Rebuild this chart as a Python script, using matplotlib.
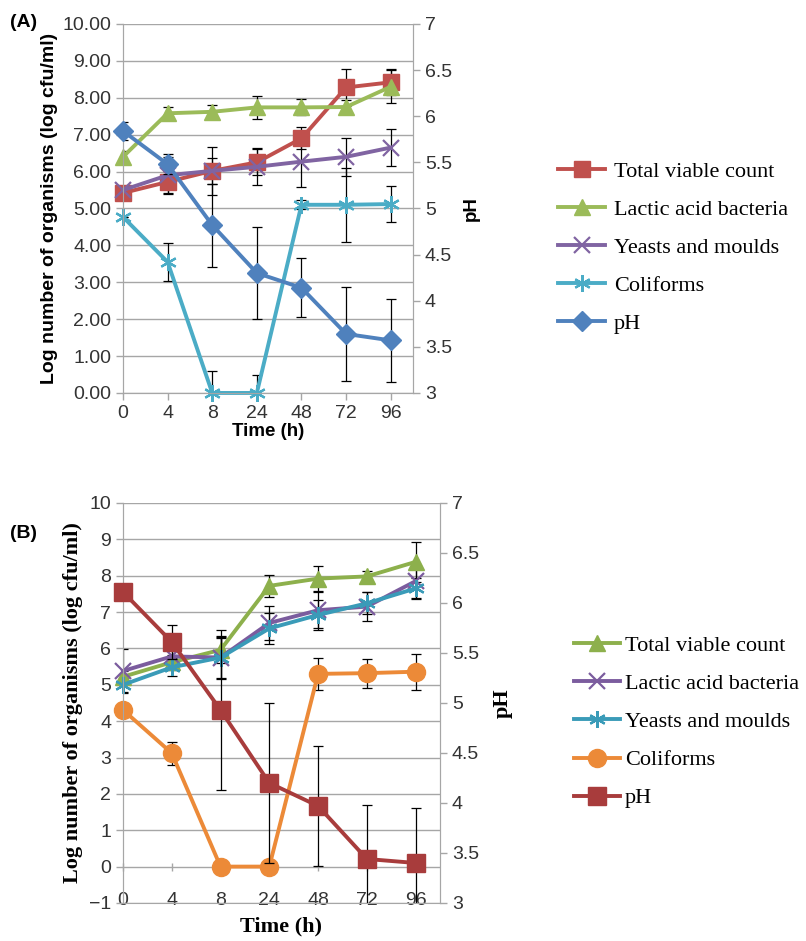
import numpy as np
import matplotlib.pyplot as plt

# time points (categorical)
times = ["0", "4", "8", "24", "48", "72", "96"]

# ---- panel A ----
a_tvc = [5.42, 5.72, 6.02, 6.25, 6.90, 8.28, 8.42]
a_tvc_err = [0.15, 0.30, 0.35, 0.35, 0.30, 0.50, 0.35]
a_lab = [6.40, 7.58, 7.62, 7.74, 7.74, 7.75, 8.30]
a_lab_err = [0.15, 0.18, 0.18, 0.32, 0.22, 0.20, 0.45]
a_ym = [5.50, 5.90, 6.02, 6.13, 6.27, 6.40, 6.65]
a_ym_err = [0.10, 0.50, 0.65, 0.50, 0.68, 0.52, 0.50]
a_coli = [4.77, 3.55, 0.0, 0.0, 5.10, 5.10, 5.12]
a_coli_err = [0.0, 0.52, 0.60, 0.50, 0.12, 1.00, 0.50]
a_ph = [5.84, 5.48, 4.82, 4.30, 4.14, 3.64, 3.57]
a_ph_err = [0.10, 0.11, 0.45, 0.50, 0.32, 0.51, 0.45]

# ---- panel B ----
b_tvc = [5.22, 5.62, 5.96, 7.72, 7.92, 7.98, 8.38]
b_tvc_err = [0.15, 0.20, 0.35, 0.30, 0.35, 0.15, 0.55]
b_lab = [5.38, 5.78, 5.75, 6.70, 7.05, 7.15, 7.85]
b_lab_err = [0.60, 0.20, 0.60, 0.48, 0.50, 0.40, 0.45]
b_ym = [5.00, 5.48, 5.75, 6.55, 6.92, 7.24, 7.65]
b_ym_err = [0.20, 0.25, 0.55, 0.42, 0.40, 0.30, 0.30]
b_coli = [4.31, 3.12, 0.0, 0.0, 5.30, 5.32, 5.36]
b_coli_err = [0.0, 0.32, 0.0, 0.0, 0.43, 0.40, 0.50]
b_ph = [6.11, 5.61, 4.93, 4.20, 3.97, 3.44, 3.40]
b_ph_err = [0.0, 0.17, 0.80, 0.80, 0.60, 0.54, 0.55]

SERIF = "Liberation Serif"
SANS = "Liberation Sans"
GRID = "#a6a6a6"

x = np.arange(len(times))


def style_axes(ax, ax2):
    for a in (ax, ax2):
        for s in a.spines.values():
            s.set_color(GRID)
        a.tick_params(colors="#333333", length=5, width=1, color=GRID, labelsize=14)
    ax.spines["top"].set_visible(False)
    ax2.spines["top"].set_visible(False)
    ax.yaxis.grid(True, color=GRID, linewidth=1)
    ax.set_axisbelow(True)
    ax.set_xlim(0, 6.5)
    ax.set_xticks(x)
    ax.set_xticklabels(times)


def series(ax, y, err, color, marker, ms, label):
    ax.errorbar(x, y, yerr=err, fmt="none", ecolor="black", elinewidth=0.9,
                capsize=3.5, capthick=0.9, zorder=2)
    mew = 1.6 if marker in ("x", "*") else 1
    if marker == "*":
        marker = (6, 2, 0)
    return ax.plot(x, y, color=color, marker=marker, markersize=ms, linewidth=2.8,
                   markerfacecolor=color, markeredgecolor=color, markeredgewidth=mew,
                   label=label, zorder=3, clip_on=False)[0]


fig = plt.figure(figsize=(8.06, 9.41), dpi=100)

# ================= panel A =================
axA = fig.add_axes([0.1526, 0.5824, 0.3598, 0.3921])
axA2 = axA.twinx()
style_axes(axA, axA2)
axA.set_ylim(0, 10)
axA.set_yticks(np.arange(0, 11, 1))
axA.set_yticklabels([f"{v:.2f}" for v in range(11)])
axA2.set_ylim(3, 7)
axA2.set_yticks(np.arange(3, 7.01, 0.5))
axA2.set_yticklabels(["3", "3.5", "4", "4.5", "5", "5.5", "6", "6.5", "7"])
for lbl in axA.get_xticklabels() + axA.get_yticklabels() + axA2.get_yticklabels():
    lbl.set_fontfamily(SANS)

hA = [
    series(axA, a_tvc, a_tvc_err, "#C0504D", "s", 12, "Total viable count"),
    series(axA, a_lab, a_lab_err, "#9BBB59", "^", 12, "Lactic acid bacteria"),
    series(axA, a_ym, a_ym_err, "#8064A2", "x", 11, "Yeasts and moulds"),
    series(axA, a_coli, a_coli_err, "#4BACC6", "*", 12, "Coliforms"),
    series(axA2, a_ph, a_ph_err, "#4F81BD", "D", 10, "pH"),
]
axA.set_xlabel("Time (h)", fontsize=13.5, fontweight="bold", family=SANS, labelpad=1)
axA.set_ylabel("Log number of organisms (log cfu/ml)", fontsize=14, fontweight="bold",
               family=SANS, labelpad=3)
axA2.set_ylabel("pH", fontsize=13.5, fontweight="bold", family=SANS, labelpad=8)
fig.legend(handles=hA, loc="upper left", bbox_to_anchor=(0.668, 0.850), frameon=False,
           prop={"family": SERIF, "size": 16}, handlelength=2.1, labelspacing=0.79,
           handletextpad=0.4)
fig.text(0.012, 0.985, "(A)", fontsize=14, fontweight="bold", family=SANS, va="top")

# ================= panel B =================
axB = fig.add_axes([0.1526, 0.0404, 0.3933, 0.4251])
axB2 = axB.twinx()
style_axes(axB, axB2)
axB.set_ylim(-1, 10)
axB.set_yticks(np.arange(-1, 11, 1))
axB.set_yticklabels(["\u22121"] + [str(v) for v in range(0, 11)])
axB2.set_ylim(3, 7)
axB2.set_yticks(np.arange(3, 7.01, 0.5))
axB2.set_yticklabels(["3", "3.5", "4", "4.5", "5", "5.5", "6", "6.5", "7"])
axB.spines["bottom"].set_position(("data", 0))
axB.spines["bottom"].set_visible(False)
axB.tick_params(axis="x", direction="inout", length=6, pad=15)
for lbl in axB.get_xticklabels() + axB.get_yticklabels() + axB2.get_yticklabels():
    lbl.set_fontfamily(SANS)

hB = [
    series(axB, b_tvc, b_tvc_err, "#8DB04C", "^", 12, "Total viable count"),
    series(axB, b_lab, b_lab_err, "#7B5C9E", "x", 11, "Lactic acid bacteria"),
    series(axB, b_ym, b_ym_err, "#3A9BB8", "*", 12, "Yeasts and moulds"),
    series(axB, b_coli, b_coli_err, "#EC8A38", "o", 13, "Coliforms"),
    series(axB2, b_ph, b_ph_err, "#A83C3C", "s", 13, "pH"),
]
axB.set_xlabel("Time (h)", fontsize=16, fontweight="bold", family=SERIF, labelpad=0)
axB.xaxis.set_label_coords(0.5, -0.035)
axB.set_ylabel("Log number of organisms (log cfu/ml)", fontsize=16, fontweight="bold",
               family=SERIF, labelpad=4)
axB2.set_ylabel("pH", fontsize=16, fontweight="bold", family=SERIF, labelpad=10)
fig.legend(handles=hB, loc="upper left", bbox_to_anchor=(0.687, 0.346), frameon=False,
           prop={"family": SERIF, "size": 16}, handlelength=2.1, labelspacing=0.79,
           handletextpad=0.2)
fig.text(0.012, 0.442, "(B)", fontsize=14, fontweight="bold", family=SANS, va="top")

fig.savefig("out.png", dpi=100)
